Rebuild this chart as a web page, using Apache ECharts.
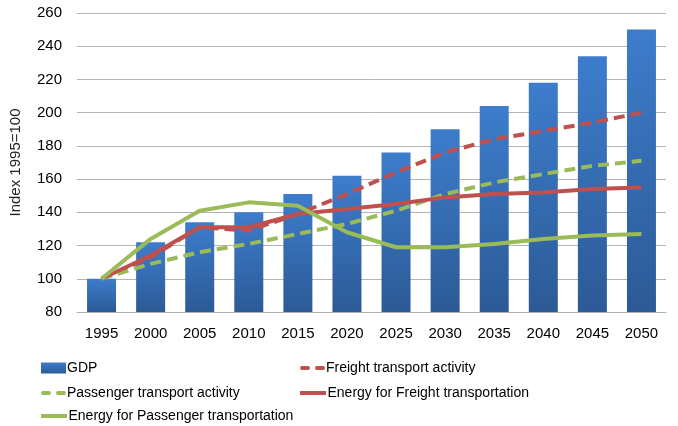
<!DOCTYPE html>
<html><head><meta charset="utf-8">
<script src="https://cdn.jsdelivr.net/npm/echarts@6/dist/echarts.min.js"></script>
<style>html,body{margin:0;padding:0;background:#fff}#c{width:678px;height:426px}</style>
</head><body><div id="c"></div>
<script>
const years = ['1995','2000','2005','2010','2015','2020','2025','2030','2035','2040','2045','2050'];
const gdp = [100,122,134,140,151,162,176,190,204,218,234,250];
const freightActivity = [100,113,131,129,139,151,164,176,184,189,194,200];
const passengerActivity = [100,109,116,121,127,133,141,151,158,163,168,171];
const energyFreight = [100,114,131,131,139,142,145,149,151,152,154,155];
const energyPassenger = [100,124,141,146,144,128,119,119,121,124,126,127];

const RED = '#c0504d', GREEN = '#9bbb59';
const FONT = '"Liberation Sans", Arial, sans-serif';
const DASH_ICON = 'path://M2,0h6a2,2 0 0 1 0,4h-6a2,2 0 0 1 0,-4z M17,0h6a2,2 0 0 1 0,4h-6a2,2 0 0 1 0,-4z';
const SOLID_ICON = 'path://M0,0h26v4h-26z';
const BAR_ICON = 'rect';
const chart = echarts.init(document.getElementById('c'), null, {renderer:'canvas'});
function lg(name, icon, left, top, w, h){
  return {data:[{name:name, icon:icon}], left:left, top:top, itemWidth:w, itemHeight:h, itemGap:0,
    textStyle:{fontFamily:FONT, fontSize:14, color:'#000', padding:[0,0,0,-4]}};
}
chart.setOption({
  animation:false,
  grid:{left:74, right:12, top:13, bottom:114},
  legend:[
    lg('GDP',BAR_ICON,36,356,25,11),
    lg('Freight transport activity',DASH_ICON,295,356,25,4),
    lg('Passenger transport activity',DASH_ICON,36,381,25,4),
    lg('Energy for Freight transportation',SOLID_ICON,295,381,27,4),
    lg('Energy for Passenger transportation',SOLID_ICON,36,404,27,4)
  ],
  xAxis:{type:'category', data:years,
    axisLine:{lineStyle:{color:'#b0b0b0'}}, axisTick:{show:false},
    axisLabel:{color:'#000', fontFamily:FONT, fontSize:15, margin:14}},
  yAxis:{type:'value', min:80, max:260, interval:20,
    name:'Index 1995=100', nameLocation:'middle', nameRotate:90, nameGap:54,
    nameTextStyle:{color:'#222', fontFamily:FONT, fontSize:15},
    axisLine:{show:false}, axisTick:{show:false},
    axisLabel:{color:'#000', fontFamily:FONT, fontSize:15, margin:15},
    splitLine:{lineStyle:{color:'#b4b4b4', width:1}}},
  series:[
    {name:'GDP', type:'bar', data:gdp, barWidth:29,
      itemStyle:{color:new echarts.graphic.LinearGradient(0,0,0,1,[{offset:0,color:'#3d7dcc'},{offset:1,color:'#2c5a96'}])}},
    {name:'Freight transport activity', type:'line', data:freightActivity, symbol:'none', color:RED,
      itemStyle:{color:RED}, lineStyle:{color:RED, width:4, type:[11,6]}},
    {name:'Passenger transport activity', type:'line', data:passengerActivity, symbol:'none', color:GREEN,
      itemStyle:{color:GREEN}, lineStyle:{color:GREEN, width:4, type:[11,6]}},
    {name:'Energy for Freight transportation', type:'line', data:energyFreight, symbol:'none', color:RED,
      itemStyle:{color:RED}, lineStyle:{color:RED, width:4}},
    {name:'Energy for Passenger transportation', type:'line', data:energyPassenger, symbol:'none', color:GREEN,
      itemStyle:{color:GREEN}, lineStyle:{color:GREEN, width:4}}
  ]
});
</script></body></html>
